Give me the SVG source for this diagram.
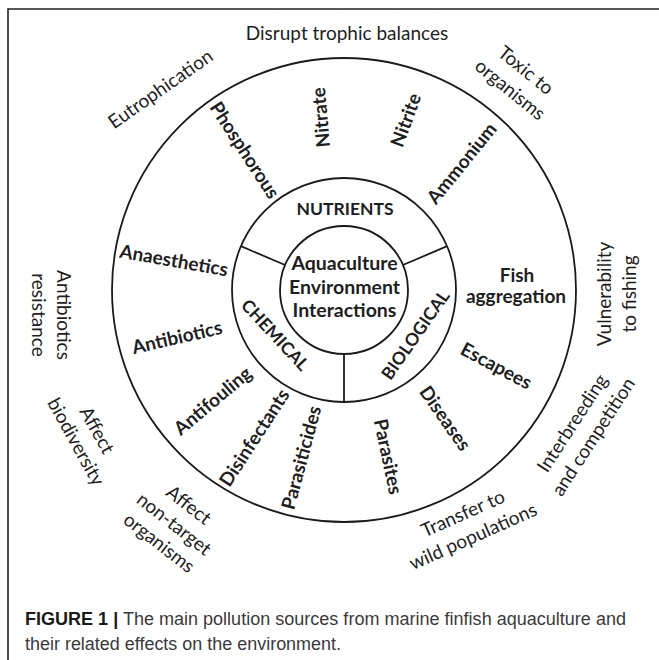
<svg xmlns="http://www.w3.org/2000/svg" width="659" height="660" viewBox="0 0 659 660">
<style>
text{font-family:Lato,"Liberation Sans",sans-serif;fill:#1e1e1e;text-anchor:middle}
.o{font-size:19px}
.m{font-size:19px;font-weight:bold}
.r{font-size:17.5px;font-weight:bold}
.c{font-size:19.5px;font-weight:bold}
.ln{fill:none;stroke:#1a1a1a;stroke-width:1.8}
.cap{font-family:"Liberation Sans",Arial,sans-serif;font-size:17.5px;fill:#3a3a3a;text-anchor:start}
.capb{font-weight:bold;fill:#1a1a1a}
</style>
<rect width="659" height="660" fill="#fff"/>
<path d="M8 660V9H659" fill="none" stroke="#222" stroke-width="1.6"/>
<g id="rings">
<circle class="ln" cx="344" cy="290" r="232"/>
<circle class="ln" cx="344" cy="290" r="112"/>
<circle class="ln" cx="344" cy="290" r="64"/>
</g>
<g id="connectors">
<line class="ln" x1="285.1" y1="265" x2="240.9" y2="246.2"/>
<line class="ln" x1="402.9" y1="265" x2="447.1" y2="246.2"/>
<line class="ln" x1="344" y1="354" x2="344" y2="402"/>
</g>
<g id="center"><text class="c" x="344.5" y="270">Aquaculture</text><text class="c" x="344.5" y="293.5">Environment</text><text class="c" x="344.5" y="317">Interactions</text></g>
<g id="nutrients"><text class="r" x="345" y="215">NUTRIENTS</text></g>
<g id="chemical" transform="translate(275 335) rotate(47)"><text class="r" y="6">CHEMICAL</text></g>
<g id="biological" transform="translate(415.5 335) rotate(-55)"><text class="r" y="6">BIOLOGICAL</text></g>
<g id="phosphorous" transform="translate(245 150) rotate(57)"><text class="m" y="7">Phosphorous</text></g>
<g id="nitrate" transform="translate(320.5 117.5) rotate(-95)"><text class="m" y="7">Nitrate</text></g>
<g id="nitrite" transform="translate(405.5 120) rotate(-70)"><text class="m" y="7">Nitrite</text></g>
<g id="ammonium" transform="translate(461.5 163) rotate(-51)"><text class="m" y="7">Ammonium</text></g>
<g id="anaesthetics" transform="translate(174 260) rotate(10)"><text class="m" y="7">Anaesthetics</text></g>
<g id="antibiotics" transform="translate(177 337) rotate(-13)"><text class="m" y="7">Antibiotics</text></g>
<g id="antifouling" transform="translate(212.5 400.5) rotate(-40)"><text class="m" y="7">Antifouling</text></g>
<g id="disinfectants" transform="translate(254 437.5) rotate(-57)"><text class="m" y="7">Disinfectants</text></g>
<g id="parasiticides" transform="translate(301 457.5) rotate(-75)"><text class="m" y="7">Parasiticides</text></g>
<g id="parasites" transform="translate(388.5 456.5) rotate(78)"><text class="m" y="7">Parasites</text></g>
<g id="diseases" transform="translate(445.5 418) rotate(55)"><text class="m" y="7">Diseases</text></g>
<g id="escapees" transform="translate(496.5 365.5) rotate(28)"><text class="m" y="7">Escapees</text></g>
<g id="fish-aggregation"><text class="m" x="517" y="282">Fish</text><text class="m" x="516" y="303">aggregation</text></g>
<g id="disrupt"><text class="o" x="347" y="39.5">Disrupt trophic balances</text></g>
<g id="eutrophication" transform="translate(160.5 89) rotate(-35)"><text class="o" y="6.5">Eutrophication</text></g>
<g id="toxic" transform="translate(518 80) rotate(39)"><text class="o" y="-6">Toxic to</text><text class="o" y="19">organisms</text></g>
<g id="vulnerability" transform="translate(616.5 294) rotate(-90)"><text class="o" y="-6">Vulnerability</text><text class="o" y="19">to fishing</text></g>
<g id="interbreeding" transform="translate(582.8 430) rotate(-57)"><text class="o" y="-6">Interbreeding</text><text class="o" y="19">and competition</text></g>
<g id="transfer" transform="translate(468 525) rotate(-24)"><text class="o" y="-6">Transfer to</text><text class="o" y="19">wild populations</text></g>
<g id="antibiotics-resistance" transform="translate(51 315) rotate(90)"><text class="o" y="-6">Antibiotics</text><text class="o" y="19">resistance</text></g>
<g id="affect-biodiversity" transform="translate(86.5 436) rotate(61)"><text class="o" y="-5.5">Affect</text><text class="o" y="18.5">biodiversity</text></g>
<g id="affect-nontarget" transform="translate(174 524) rotate(38)"><text class="o" y="-17.5">Affect</text><text class="o" y="6.5">non-target</text><text class="o" y="30.5">organisms</text></g>
<g id="caption"><text class="cap" x="25" y="625" textLength="601" lengthAdjust="spacingAndGlyphs"><tspan class="capb">FIGURE 1 |</tspan> The main pollution sources from marine finfish aquaculture and</text><text class="cap" x="25" y="650" textLength="316" lengthAdjust="spacingAndGlyphs">their related effects on the environment.</text></g>
</svg>
